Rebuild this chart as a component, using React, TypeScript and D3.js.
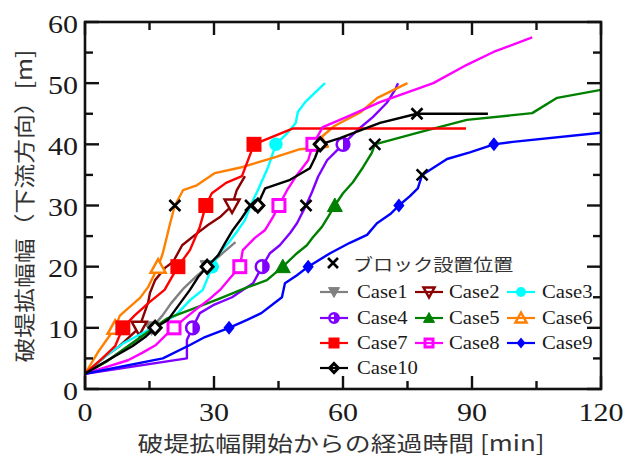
import React from "react";
import * as d3 from "d3";

const xTicks = [0, 30, 60, 90, 120];
const yTicks = [0, 10, 20, 30, 40, 50, 60];
const caseNames = ["Case1", "Case2", "Case3", "Case4", "Case5", "Case6", "Case7", "Case8", "Case9", "Case10"];
const blockLabel = "ブロック設置位置";
const xTitle = "破堤拡幅開始からの経過時間 [min]";
const yTitle = "破堤拡幅幅（下流方向）[m]";

const case1 = [[0,2.5],[5,4.5],[9,6.5],[12,8],[15.5,10],[18,12],[20,14],[23,16.5],[26,18.5],[28.5,20],[32,22.2],[35,24]];
const case2 = [[0,0],[0,2.5],[5,5.5],[8,7],[12.6,10],[13.5,11.8],[14.7,14.2],[15.1,15.7],[16.3,17.8],[18.6,19.8],[20.5,20.8],[22.6,23.5],[25.6,25.2],[28.6,26.8],[31.4,28.1],[34.2,30],[35.3,32.5],[37.2,34.8]];
const case3 = [[0,2.5],[5,5.5],[9,7.5],[13,9],[17,10.5],[21,12],[24.4,14.5],[27.4,16.2],[29.6,20],[31,22],[33.5,24],[35.3,25.7],[37.2,27.6],[38.5,30],[40.2,32.5],[42.6,36.3],[44.4,40],[47,41.8],[49,43.5],[49.5,45.3],[51.2,46.9],[55.8,50]];
const case4 = [[0,2.5],[23.7,5],[23.7,8],[25,10],[26.7,12.4],[29.8,13.7],[34.2,15],[36.7,16.2],[39.1,17.3],[41.2,20],[43,22.2],[45.3,23.5],[47.7,25.5],[49.3,27.1],[51.4,30],[52.8,32.2],[54.2,34.7],[56.3,37.4],[58.6,39],[60,40],[63.3,42.3],[67,44.5],[70.2,46.8],[72.1,48.9],[72.8,50]];
const case5 = [[0,2.5],[5,4.5],[10,7],[13,8.5],[16,10],[19,11.5],[24,12.8],[30.7,14.6],[37.7,16.6],[42.3,17.8],[46,20],[49.3,22.2],[51.6,23.5],[53,24.8],[55.1,26.5],[56.5,28.1],[58.1,30],[60,32],[62.3,33.8],[64.7,36.3],[66.7,38.6],[67.4,40],[77.9,42],[88.8,44],[104,45.1],[109.8,47.6],[120,48.9]];
const case6 = [[0,2.5],[3,6],[5.5,8.5],[7,10],[8.1,12],[12.8,14.9],[14.7,16.7],[17,20],[18.1,22.2],[19.8,27.1],[20.9,30],[22.8,32.5],[26,33.3],[30.2,35.3],[36.7,36.3],[43.7,37.8],[50,39.2],[56.5,39.6],[55,41.2],[58,43],[64,45.2],[68,47.6],[75,50]];
const case7 = [[0,2.5],[4,5],[7,7],[8.8,10],[11.5,12],[15,14.2],[18.5,16.2],[21.6,20],[24.4,22.7],[26.7,26.5],[28.1,30],[29.5,32],[32.8,33.7],[36.5,34.8],[39.3,40],[48.4,42.6],[88.6,42.6]];
const case8 = [[0,2.5],[10,4.7],[13.3,5.9],[16.5,7.2],[18.8,8.8],[20.7,10],[22.8,11.3],[25.6,12.9],[28.6,14.5],[31.4,16.2],[33.7,18.1],[36,20],[36.7,22.7],[39.5,24.7],[41.9,26],[43.7,28.1],[45.1,30],[47,32.5],[49.3,35],[51.9,37.4],[53,40],[55.3,42.8],[60.9,44.5],[68.6,46.9],[81,50],[88.8,53],[95,55.1],[104,57.5]];
const case9 = [[0,2.5],[18.1,5],[24.4,7.2],[27.9,8.5],[33.5,10],[37.7,11.3],[41,12.4],[45.8,15],[46.5,17.3],[49.3,18.6],[51.9,20],[57,22.2],[61.6,23.9],[65.6,25.2],[67.9,27.1],[71,28.6],[73,30],[75.5,31.5],[77.4,32.8],[78.4,35],[84.2,37.6],[89.5,38.7],[95.1,40],[99.5,40.4],[120,41.9]];
const case10 = [[0,2.5],[6,5],[11,7],[14,8.5],[16.3,10],[19.3,11.3],[22.1,14],[24.4,16.2],[26.3,18.3],[28.4,20],[31,21.9],[32.6,23.9],[34.4,26],[36.5,28],[38.4,30],[40.2,30.2],[41.9,32.8],[47.7,34.2],[52.3,36.1],[53.5,37.8],[54.7,40],[59.3,41],[68.6,43.5],[77.2,45],[93.7,45]];

const marks1 = [[15.5,10],[28.5,20]];
const marks2 = [[12.6,10],[34.2,30]];
const marks3 = [[29.6,20],[44.4,40]];
const marks4 = [[25,10],[41.2,20],[60,40]];
const marks5 = [[46,20],[58.1,30]];
const marks6 = [[7,10],[17,20]];
const marks7 = [[8.8,10],[21.6,20],[28.1,30],[39.3,40]];
const marks8 = [[20.7,10],[36,20],[45.1,30],[53,40]];
const marks9 = [[33.5,10],[51.9,20],[73,30],[95.1,40]];
const marks10 = [[16.3,10],[28.4,20],[40.2,30],[54.7,40]];
const blockMarks = [[20.9,30],[38.5,30],[51.4,30],[67.4,40],[78.4,35],[77.2,45]];

const lines = [case1, case2, case3, case4, case5, case6, case7, case8, case9, case10];
const marks = [marks1, marks2, marks3, marks4, marks5, marks6, marks7, marks8, marks9, marks10];
const colors = ["#808080", "#8B0000", "#00FFFF", "#8000FF", "#008000", "#FF8000", "#FF0000", "#FF00FF", "#0000FF", "#000000"];
const shapes = ["triDownFilled", "triDownOpen", "circleFilled", "circleHalf", "triUpFilled", "triUpOpen", "squareFilled", "squareOpen", "diamondFilled", "diamondOpen"];

const L = 85, R = 601, TOP = 22, B = 389;
const x = d3.scaleLinear().domain([0, 120]).range([L, R]);
const y = d3.scaleLinear().domain([0, 60]).range([B, TOP]);
const lineGen = d3.line<number[]>().x((d) => x(d[0])).y((d) => y(d[1]));

function Marker({ shape, cx, cy, s, color, open }: any) {
  const h = s / 2;
  const openFill = open;
  switch (shape) {
    case "triDownFilled":
      return <path d={`M${cx - h},${cy - h * 0.8}L${cx + h},${cy - h * 0.8}L${cx},${cy + h}Z`} fill={color} stroke={color} strokeWidth={1} />;
    case "triDownOpen":
      return <path d={`M${cx - h},${cy - h * 0.8}L${cx + h},${cy - h * 0.8}L${cx},${cy + h}Z`} fill={openFill} stroke={color} strokeWidth={2.5} />;
    case "triUpFilled":
      return <path d={`M${cx - h},${cy + h * 0.8}L${cx + h},${cy + h * 0.8}L${cx},${cy - h}Z`} fill={color} stroke={color} strokeWidth={1} />;
    case "triUpOpen":
      return <path d={`M${cx - h},${cy + h * 0.8}L${cx + h},${cy + h * 0.8}L${cx},${cy - h}Z`} fill={openFill} stroke={color} strokeWidth={2.5} />;
    case "circleFilled":
      return <circle cx={cx} cy={cy} r={h * 0.9} fill={color} />;
    case "circleHalf":
      return (
        <g>
          <circle cx={cx} cy={cy} r={h * 0.85} fill={openFill} stroke={color} strokeWidth={2.5} />
          <path d={`M${cx},${cy - h * 0.85}A${h * 0.85},${h * 0.85} 0 0 1 ${cx},${cy + h * 0.85}Z`} fill={color} />
        </g>
      );
    case "squareFilled":
      return <rect x={cx - h} y={cy - h} width={s} height={s} fill={color} />;
    case "squareOpen":
      return <rect x={cx - h + 1.5} y={cy - h + 1.5} width={s - 3} height={s - 3} fill={openFill} stroke={color} strokeWidth={3} />;
    case "diamondFilled":
      return <path d={`M${cx},${cy - h}L${cx + h * 0.8},${cy}L${cx},${cy + h}L${cx - h * 0.8},${cy}Z`} fill={color} />;
    case "diamondOpen":
      return <path d={`M${cx},${cy - h + 1}L${cx + h * 0.8},${cy}L${cx},${cy + h - 1}L${cx - h * 0.8},${cy}Z`} fill={openFill} stroke={color} strokeWidth={3} />;
  }
  return null;
}

function Cross({ cx, cy, s }: any) {
  const h = s / 2;
  return (
    <path d={`M${cx - h},${cy - h}L${cx + h},${cy + h}M${cx - h},${cy + h}L${cx + h},${cy - h}`} stroke="#000" strokeWidth={2.6} fill="none" />
  );
}

function ST({ x, y, s = 1.2, anchor = "start", size, family, fill = "#1a1a1a", children }: any) {
  return (
    <text transform={`translate(${x},${y}) scale(${s},1)`} textAnchor={anchor} dominantBaseline="central" fontSize={size} fontFamily={family} fill={fill}>
      {children}
    </text>
  );
}

export default function App() {
  const serif = "'Liberation Serif', 'Times New Roman', serif";
  const cjk = "'Noto Sans CJK JP', 'Noto Sans', sans-serif";
  const minorX = d3.range(0, 121, 15);
  const minorY = d3.range(0, 61, 5);
  const legendCols = [334, 429, 521];
  const legendTextX = [357, 449, 542];
  const legendRows = [292, 318, 343, 368];

  return (
    <svg width={626} height={461} style={{ position: "absolute", left: 0, top: 0, background: "#fff" }}>
      <rect width={626} height={461} fill="#fff" />
      <defs>
        <clipPath id="plot">
          <rect x={L} y={TOP} width={R - L} height={B - TOP + 12} />
        </clipPath>
      </defs>
      <g clipPath="url(#plot)">
        {lines.map((ln, i) => (
          <g key={i}>
            <path d={lineGen(ln) || ""} fill="none" stroke={colors[i]} strokeWidth={2.4} strokeLinejoin="round" />
            {marks[i].map((m, j) => (
              <Marker key={j} shape={shapes[i]} cx={x(m[0])} cy={y(m[1])} s={i === 8 ? 14 : 15} color={colors[i]} open="#fff" />
            ))}
          </g>
        ))}
        {blockMarks.map((m, j) => (
          <Cross key={j} cx={x(m[0])} cy={y(m[1])} s={11} />
        ))}
      </g>
      <rect x={L} y={TOP} width={R - L} height={B - TOP} fill="none" stroke="#111" strokeWidth={2.6} />
      {minorX.map((t) => {
        const len = t % 30 === 0 ? 13 : 8;
        return (
          <g key={"x" + t}>
            <line x1={x(t)} x2={x(t)} y1={B} y2={B - len} stroke="#111" strokeWidth={2.4} />
            <line x1={x(t)} x2={x(t)} y1={TOP} y2={TOP + len} stroke="#111" strokeWidth={2.4} />
          </g>
        );
      })}
      {minorY.map((v) => {
        const len = v % 10 === 0 ? 14 : 8;
        return (
          <g key={"y" + v}>
            <line x1={L} x2={L + len} y1={y(v)} y2={y(v)} stroke="#111" strokeWidth={2.4} />
            <line x1={R} x2={R - len} y1={y(v)} y2={y(v)} stroke="#111" strokeWidth={2.4} />
          </g>
        );
      })}
      {xTicks.map((t) => (
        <ST key={"xl" + t} x={x(t)} y={412} anchor="middle" size={25} family={serif}>{t}</ST>
      ))}
      {yTicks.map((v) => (
        <ST key={"yl" + v} x={78} y={y(v) + 2} anchor="end" size={25} family={serif}>{v}</ST>
      ))}
      <text x={341} y={442} textAnchor="middle" dominantBaseline="central" fontSize={21} fontFamily={cjk} fill="#333" textLength={407} lengthAdjust="spacingAndGlyphs">{xTitle}</text>
      <text transform={`translate(23,206) rotate(-90)`} textAnchor="middle" dominantBaseline="central" fontSize={21} fontFamily={cjk} fill="#333" textLength={313} lengthAdjust="spacingAndGlyphs">{yTitle}</text>
      <Cross cx={333} cy={263} s={10} />
      <ST x={353} y={263} s={1.18} size={17} family={cjk} fill="#333">{blockLabel}</ST>
      {caseNames.map((name, i) => {
        const col = i % 3;
        const row = Math.floor(i / 3);
        const cx = legendCols[col];
        const cy = legendRows[row];
        return (
          <g key={name}>
            <line x1={cx - 14} x2={cx + 14} y1={cy} y2={cy} stroke={colors[i]} strokeWidth={2.2} />
            <Marker shape={shapes[i]} cx={cx} cy={cy} s={11} color={colors[i]} open="none" />
            <ST x={legendTextX[col]} y={cy} s={1.15} size={18} family={serif}>{name}</ST>
          </g>
        );
      })}
    </svg>
  );
}
